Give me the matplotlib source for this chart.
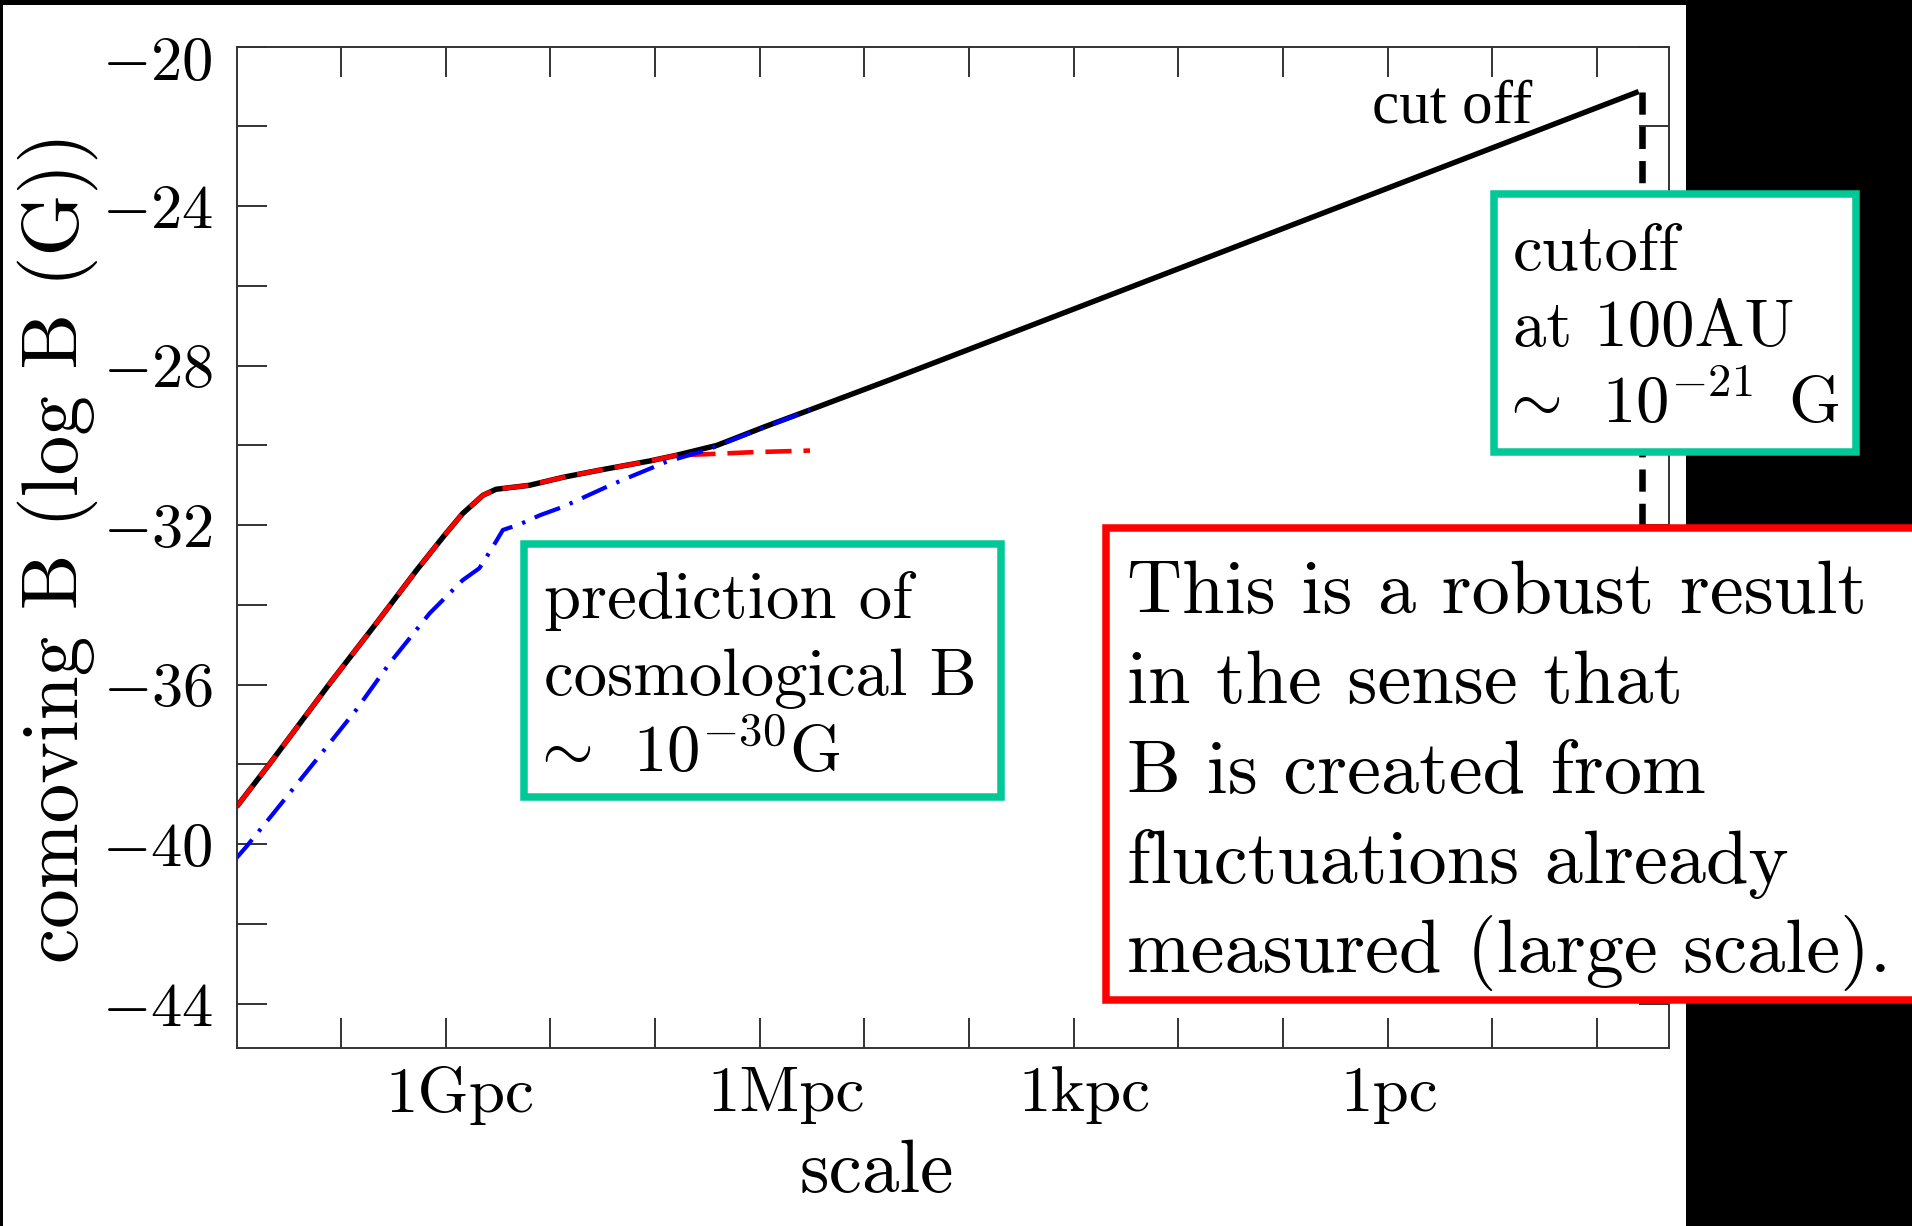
import numpy as np
import matplotlib.pyplot as plt
from matplotlib.patches import Rectangle
from matplotlib.transforms import ScaledTranslation

plt.rcParams['font.family'] = 'cmr10'
plt.rcParams['mathtext.fontset'] = 'cm'

# x = log10(scale / pc), large scales on the left
black_x = [11.0, 10.68, 10.11, 9.665, 9.28, 9.0, 8.84, 8.645, 8.52, 8.20, 7.88,
           7.53, 7.05, 6.80, 6.41, 5.94, 5.52, 4.76, -2.40]
black_y = [-39.06, -37.97, -35.97, -34.46, -33.13, -32.21, -31.71, -31.25, -31.10,
           -31.0, -30.80, -30.62, -30.39, -30.25, -30.0, -29.52, -29.11, -28.36, -21.13]

red_x = [11.0, 10.68, 10.11, 9.665, 9.28, 9.0, 8.84, 8.645, 8.52, 8.20, 7.88,
         7.53, 7.05, 6.80, 6.50, 6.06, 5.52]
red_y = [-39.06, -37.97, -35.97, -34.46, -33.13, -32.21, -31.71, -31.25, -31.10,
         -31.0, -30.80, -30.62, -30.39, -30.25, -30.22, -30.17, -30.13]

blue_x = [11.02, 10.91, 10.65, 10.24, 9.86, 9.54, 9.155, 8.84, 8.68, 8.55, 8.455,
          8.295, 8.10, 7.88, 7.43, 7.24, 6.89, 6.51, 5.94, 5.52]
blue_y = [-40.40, -40.07, -39.23, -37.89, -36.64, -35.47, -34.21, -33.38, -33.08,
          -32.54, -32.12, -31.98, -31.75, -31.54, -31.0, -30.79, -30.41, -30.12,
          -29.53, -29.11]

cut_x = -2.43
cut_top = -21.13
cut_bottom = -43.6

xtick_pos = [9, 6, 3, 0]
xtick_labels = ['1Gpc', '1Mpc', '1kpc', '1pc']
ytick_pos = [-44, -40, -36, -32, -28, -24, -20]

W, H = 1912, 1226
fig = plt.figure(figsize=(W / 100, H / 100), dpi=100, facecolor='black')
fig.add_artist(Rectangle((3 / W, 0), 1683 / W, 1221 / H, transform=fig.transFigure,
                         facecolor='white', edgecolor='none', zorder=-1))

ax = fig.add_axes([236.6 / W, 1 - 1047.7 / H, (1669 - 236.6) / W, (1047.7 - 46.5) / H])

ax.plot(black_x, black_y, color='black', lw=3.9, solid_capstyle='butt')
ax.plot(red_x, red_y, color='#ff0000', lw=3.3, ls=(0, (5.7, 2.6)))
ax.plot(blue_x, blue_y, color='#0000ff', lw=3.0, ls=(0, (6.5, 2.5, 0.8, 2.5)))
ax.plot([cut_x, cut_x], [cut_top, cut_bottom], color='black', lw=4.7,
        ls=(0, (3.4, 1.85)))
ax.text(0.15, -21.9, 'cut off', family='Liberation Serif', fontsize=44,
        ha='left', va='baseline')

ax.set_xlim(11.0, -2.69)
ax.set_ylim(-45.1, -20)

ax.set_xticks(xtick_pos, xtick_labels)
ax.set_xticks(np.arange(-2, 11), minor=True)
ax.set_yticks(ytick_pos, [f'${v}$' for v in ytick_pos])
ax.set_yticks(np.arange(-44, -19, 2), minor=True)
ax.tick_params(which='both', direction='in', length=21.6, width=1.4, color='#333333',
               top=True, right=True)
ax.tick_params(axis='x', labelsize=47, pad=13.5)
ax.tick_params(axis='y', labelsize=45, pad=17)
for s in ax.spines.values():
    s.set_linewidth(1.4)
    s.set_color('#333333')

# nudge a few tick labels
for lbl, dx in zip(ax.get_xticklabels(), [14, 26, 11, 2]):
    lbl.set_transform(lbl.get_transform() + ScaledTranslation(dx / 100, 0, fig.dpi_scale_trans))
top_lbl = ax.get_yticklabels()[-1]
top_lbl.set_transform(top_lbl.get_transform() + ScaledTranslation(0, -12 / 100, fig.dpi_scale_trans))

ax.set_ylabel('comoving B (log B (G))', fontsize=57, va='baseline')
ax.yaxis.set_label_coords(-0.1107, 0.5)
ax.set_xlabel('scale', fontsize=54, va='baseline')
ax.xaxis.set_label_coords(0.447, -0.1438)


def fig_box(left, top, right, bottom, color):
    fig.add_artist(Rectangle((left / W, 1 - bottom / H), (right - left) / W, (bottom - top) / H,
                             transform=fig.transFigure, facecolor='white',
                             edgecolor=color, lw=5.4, zorder=3))


def fig_lines(x, y0, step, lines, size):
    for i, line in enumerate(lines):
        fig.text(x / W, 1 - (y0 + i * step) / H, line, fontsize=size,
                 ha='left', va='baseline', zorder=4)


green = '#00c896'
fig_box(523.8, 544, 1001, 796.7, green)
fig_lines(543.8, 618.3, 76.7,
          ['prediction of', 'cosmological B', r'$\!\!{\sim}\ \,10^{-30}$G'], 48)

fig_box(1494, 194.4, 1856, 451.6, green)
fig_lines(1512.7, 269.8, 76.6,
          ['cutoff', 'at 100AU', r'$\!\!{\sim}\ \,10^{-21}\ \,$G'], 48)

fig_box(1106, 528, 1940, 1000, '#ff0000')
fig_lines(1127, 613.5, 89.7, ['This is a robust result', 'in the sense that',
                              'B is created from', 'fluctuations already',
                              'measured (large scale).'], 55)

fig.savefig('out.png', dpi=100)
